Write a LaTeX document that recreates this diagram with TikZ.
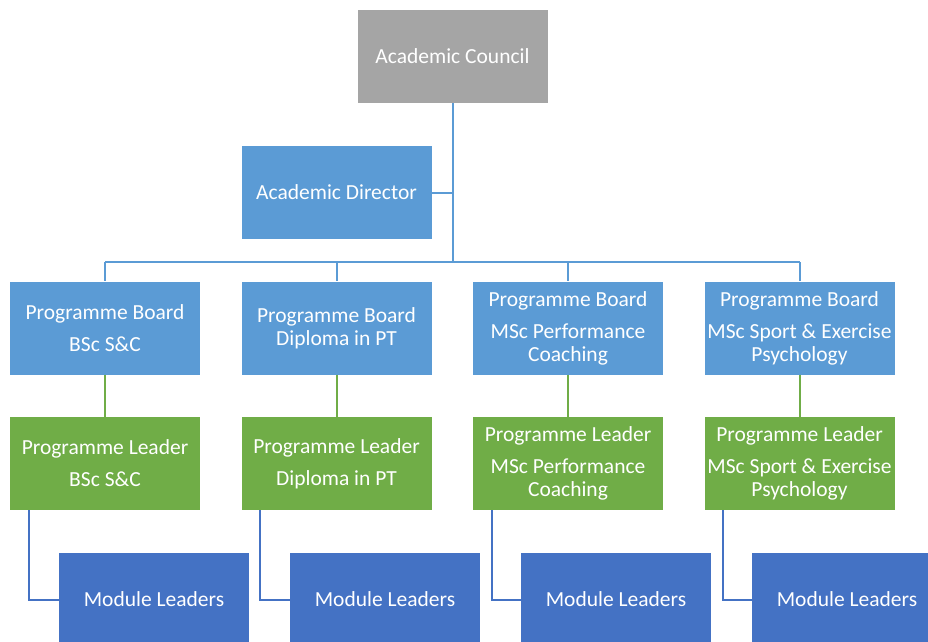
\documentclass[tikz,border=0pt]{standalone}
\usepackage{fontspec}
\setmainfont{Carlito}
\usepackage{tikz}
\usetikzlibrary{calc}
\usetikzlibrary{positioning}
\definecolor{councilgrey}{HTML}{A5A5A5}
\definecolor{boardblue}{HTML}{5B9BD5}
\definecolor{leadgreen}{HTML}{70AD47}
\definecolor{moduleblue}{HTML}{4472C4}
\tikzset{b/.style={minimum width=190pt, minimum height=93pt, inner sep=0pt, text=white, align=center, font=\fontsize{21.5}{23}\selectfont}}
\tikzset{l/.style={line width=2pt}}

\begin{document}
\begin{tikzpicture}[x=1pt,y=1pt]
        \clip (0,0) rectangle (928,-641);
        \node (AC) at (452.5,-56.5) [b, fill=councilgrey] {Academic Council};
        \node (AD) at (336.5,-192.5) [b, fill=boardblue] {Academic Director};
        % boards
        \node (B1) at (105,-328) [b, fill=boardblue] {Programme Board\\[9pt]BSc S\&C};
        \node (B2) at (336.5,-328) [b, fill=boardblue] {Programme Board\\Diploma in PT};
        \node (B3) at (568,-328) [b, fill=boardblue] {Programme Board\\[9pt]MSc Performance\\Coaching};
        \node (B4) at (799.5,-328) [b, fill=boardblue] {Programme Board\\[9pt]MSc Sport \& Exercise\\Psychology};
        % leaders
        \node (P1) at (105,-463.5) [b, fill=leadgreen] {Programme Leader\\[9pt]BSc S\&C};
        \node (P2) at (336.5,-463.5) [b, fill=leadgreen] {Programme Leader\\[9pt]Diploma in PT};
        \node (P3) at (568,-463.5) [b, fill=leadgreen] {Programme Leader\\[9pt]MSc Performance\\Coaching};
        \node (P4) at (799.5,-463.5) [b, fill=leadgreen] {Programme Leader\\[9pt]MSc Sport \& Exercise\\Psychology};
        % module leaders
        \node (M1) at (154,-599.5) [b, fill=moduleblue] {Module Leaders};
        \node (M2) at (385,-599.5) [b, fill=moduleblue] {Module Leaders};
        \node (M3) at (616,-599.5) [b, fill=moduleblue] {Module Leaders};
        \node (M4) at (847,-599.5) [b, fill=moduleblue] {Module Leaders};
        \coordinate (bus) at (452.5,-262);
        % connectors
        \draw [l, boardblue] (AC.south) -- (bus);
        \draw [l, boardblue] (AD.east) -- (AD.east -| bus);
        \draw [l, boardblue] (B1.north |- bus) -- (B4.north |- bus);
        \draw [l, boardblue] (B1.north |- bus) -- (B1.north);
        \draw [l, boardblue] (B2.north |- bus) -- (B2.north);
        \draw [l, boardblue] (B3.north |- bus) -- (B3.north);
        \draw [l, boardblue] (B4.north |- bus) -- (B4.north);
        \draw [l, leadgreen] (B1.south) -- (P1.north);
        \draw [l, leadgreen] (B2.south) -- (P2.north);
        \draw [l, leadgreen] (B3.south) -- (P3.north);
        \draw [l, leadgreen] (B4.south) -- (P4.north);
        \draw [l, moduleblue] ($(P1.south west)+(19,0)$) |- (M1.west);
        \draw [l, moduleblue] ($(P2.south west)+(19,0)$) |- (M2.west);
        \draw [l, moduleblue] ($(P3.south west)+(19,0)$) |- (M3.west);
        \draw [l, moduleblue] ($(P4.south west)+(19,0)$) |- (M4.west);
      \end{tikzpicture}
\end{document}
